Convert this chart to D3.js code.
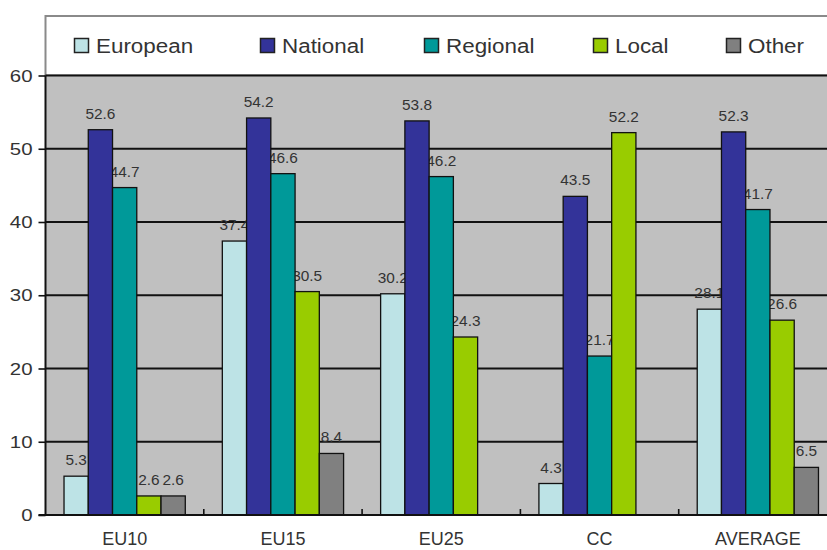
<!DOCTYPE html>
<html>
<head>
<meta charset="utf-8">
<script src="https://cdn.jsdelivr.net/npm/d3@7/dist/d3.min.js"></script>
<style>
  html, body { margin: 0; padding: 0; background: #fff; }
  svg { display: block; font-family: Arial, "Liberation Sans", sans-serif; }
</style>
</head>
<body>
<svg id="chart" width="827" height="550"></svg>
<script>
const categories = ["EU10", "EU15", "EU25", "CC", "AVERAGE"];
const seriesNames = ["European", "National", "Regional", "Local", "Other"];
const european = [5.3, 37.4, 30.2, 4.3, 28.1];
const national = [52.6, 54.2, 53.8, 43.5, 52.3];
const regional = [44.7, 46.6, 46.2, 21.7, 41.7];
const local    = [2.6, 30.5, 24.3, 52.2, 26.6];
const other    = [2.6, 8.4, null, null, 6.5];
const yTicks = [0, 10, 20, 30, 40, 50, 60];
const seriesColors = ["#bde3e6", "#333399", "#009999", "#99cc00", "#808080"];

const seriesValues = [european, national, regional, local, other];

const svg = d3.select("#chart");
const plotLeft = 45.5, plotTop = 75.5, plotBottom = 515, plotRight = 837;

const x0 = d3.scaleBand().domain(categories).range([plotLeft, plotRight])
  .paddingInner(0.234).paddingOuter(0.117);
const x1 = d3.scaleBand().domain(seriesNames).range([0, x0.bandwidth()]).padding(0);
const y = d3.scaleLinear().domain([0, 60]).range([plotBottom, plotTop]);

function stretch(sel, factor) {
  sel.each(function () {
    const w = this.getComputedTextLength();
    d3.select(this).attr("textLength", w * factor).attr("lengthAdjust", "spacingAndGlyphs");
  });
}

// legend box
svg.append("rect")
  .attr("x", plotLeft).attr("y", 16)
  .attr("width", 900).attr("height", plotTop - 16)
  .attr("fill", "#ffffff").attr("stroke", "#8a8a8a").attr("stroke-width", 2);

// plot background
svg.append("rect")
  .attr("x", plotLeft).attr("y", plotTop)
  .attr("width", plotRight - plotLeft + 20).attr("height", plotBottom - plotTop)
  .attr("fill", "#c0c0c0");

// gridlines
svg.append("g").selectAll("line").data(yTicks.filter(d => d > 0)).join("line")
  .attr("x1", plotLeft).attr("x2", 830)
  .attr("y1", d => y(d)).attr("y2", d => y(d))
  .attr("stroke", "#111").attr("stroke-width", 1.8);

// flatten data
const bars = [];
categories.forEach((c, i) => {
  seriesNames.forEach((s, j) => {
    const v = seriesValues[j][i];
    if (v !== null && v !== undefined) bars.push({ cat: c, series: s, value: v, color: seriesColors[j] });
  });
});

// data labels (below bars in stacking order)
const labels = svg.append("g").selectAll("text").data(bars).join("text")
  .attr("x", d => x0(d.cat) + x1(d.series) + x1.bandwidth() / 2)
  .attr("y", d => y(d.value) - 11)
  .attr("text-anchor", "middle")
  .attr("font-size", 14)
  .attr("fill", "#333")
  .text(d => d.value.toFixed(1));
stretch(labels, 1.1);

// bars
svg.append("g").selectAll("rect").data(bars).join("rect")
  .attr("x", d => x0(d.cat) + x1(d.series))
  .attr("y", d => y(d.value))
  .attr("width", x1.bandwidth())
  .attr("height", d => y(0) - y(d.value))
  .attr("fill", d => d.color)
  .attr("stroke", "#111").attr("stroke-width", 1.3);

// y axis
const yAxis = d3.axisLeft(y).tickValues(yTicks).tickSize(7).tickPadding(6).tickFormat(d3.format("d"));
const yg = svg.append("g").attr("transform", `translate(${plotLeft},0)`).call(yAxis);
yg.select(".domain").remove();
yg.selectAll(".tick line").attr("stroke", "#111").attr("stroke-width", 1.6);
yg.selectAll(".tick text").attr("font-size", 17).attr("fill", "#333")
  .attr("font-family", "Arial, 'Liberation Sans', sans-serif").attr("dy", "0.33em");
stretch(yg.selectAll(".tick text"), 1.2);
svg.append("line").attr("x1", plotLeft).attr("x2", plotLeft)
  .attr("y1", plotTop).attr("y2", plotBottom)
  .attr("stroke", "#111").attr("stroke-width", 2);

// x axis
svg.append("line").attr("x1", plotLeft - 7).attr("x2", 830)
  .attr("y1", plotBottom).attr("y2", plotBottom)
  .attr("stroke", "#111").attr("stroke-width", 2);
const boundaries = categories.slice(1).map(c => x0(c) - x0.step() * x0.paddingInner() / 2);
svg.append("g").selectAll("line").data(boundaries).join("line")
  .attr("x1", d => d).attr("x2", d => d)
  .attr("y1", plotBottom).attr("y2", plotBottom - 6)
  .attr("stroke", "#111").attr("stroke-width", 1.6);
svg.append("g").selectAll("text").data(categories).join("text")
  .attr("x", d => x0(d) + x0.bandwidth() / 2)
  .attr("y", 545)
  .attr("text-anchor", "middle")
  .attr("font-size", 18)
  .attr("fill", "#333")
  .text(d => d);

// legend
const legendX = [74, 260, 424, 593, 726];
const lg = svg.append("g").selectAll("g").data(seriesNames).join("g")
  .attr("transform", (d, i) => `translate(${legendX[i]},38)`);
lg.append("rect").attr("x", 0.5).attr("y", 0.5).attr("width", 14).attr("height", 14)
  .attr("fill", (d, i) => seriesColors[i]).attr("stroke", "#222").attr("stroke-width", 1.5);
const lt = lg.append("text").attr("x", 22).attr("y", 15)
  .attr("font-size", 20).attr("fill", "#333").text(d => d);
stretch(lt, 1.12);
</script>
</body>
</html>
